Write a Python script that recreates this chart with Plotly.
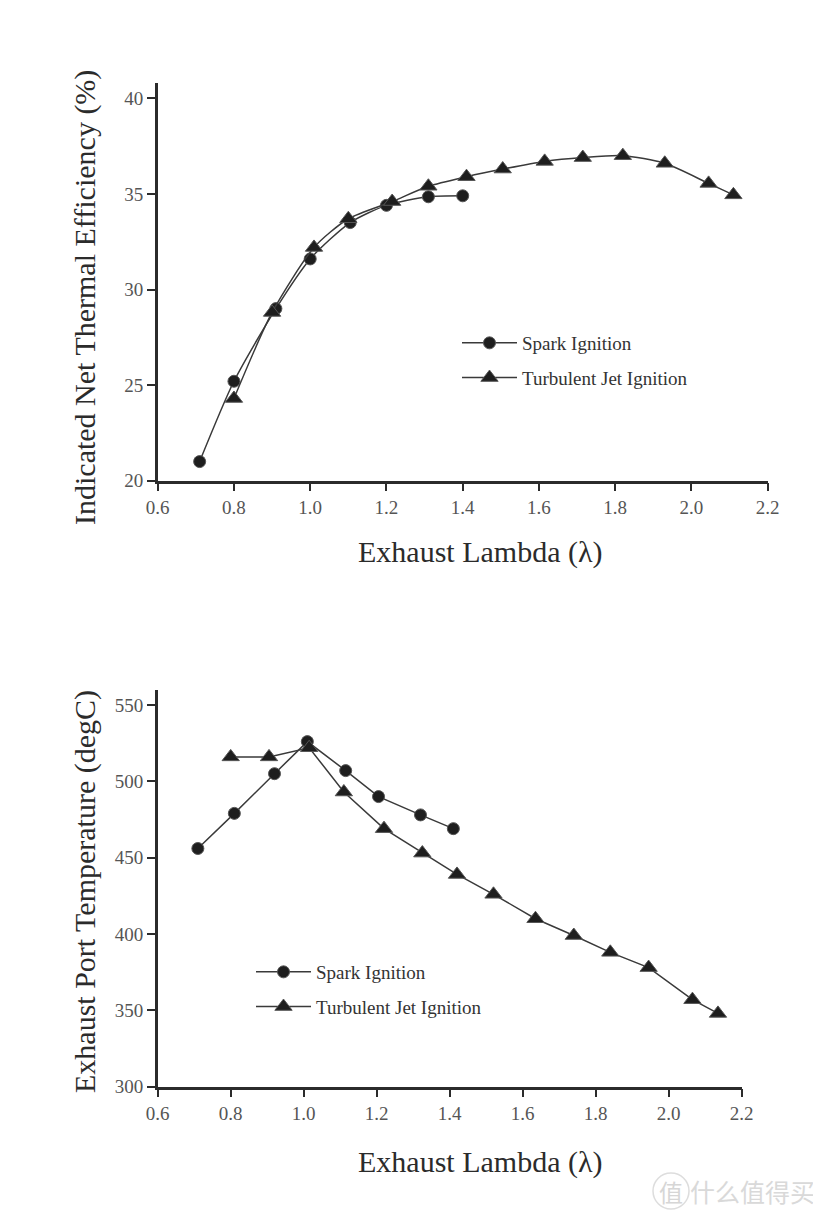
import plotly.graph_objects as go

# ---- data ----
si_eff_lambda = [0.71, 0.80, 0.91, 1.00, 1.105, 1.20, 1.31, 1.40]
si_eff = [21.0, 25.2, 29.0, 31.6, 33.5, 34.4, 34.85, 34.9]
tji_eff_lambda = [0.80, 0.90, 1.01, 1.10, 1.215, 1.31, 1.41, 1.505, 1.615, 1.715, 1.82, 1.93, 2.045, 2.11]
tji_eff = [24.3, 28.8, 32.2, 33.7, 34.6, 35.4, 35.9, 36.3, 36.7, 36.9, 37.0, 36.6, 35.55, 34.95]

si_temp_lambda = [0.71, 0.81, 0.92, 1.01, 1.115, 1.205, 1.32, 1.41]
si_temp = [456, 479, 505, 526, 507, 490, 478, 469]
tji_temp_lambda = [0.80, 0.905, 1.015, 1.11, 1.22, 1.325, 1.42, 1.52, 1.635, 1.74, 1.84, 1.945, 2.065, 2.135]
tji_temp = [516, 516, 522, 493, 469, 453, 439, 426, 410, 399, 388, 378, 357, 348]

x_ticks = [0.6, 0.8, 1.0, 1.2, 1.4, 1.6, 1.8, 2.0, 2.2]
x_tick_text = ["0.6", "0.8", "1.0", "1.2", "1.4", "1.6", "1.8", "2.0", "2.2"]
eff_ticks = [20, 25, 30, 35, 40]
temp_ticks = [300, 350, 400, 450, 500, 550]

series_names = ["Spark Ignition", "Turbulent Jet Ignition"]
x_title = "Exhaust Lambda (λ)"
eff_title = "Indicated Net Thermal Efficiency (%)"
temp_title = "Exhaust Port Temperature (degC)"

# ---- styling ----
W, H = 821, 1216
PAGE_OFFSET = 8  # default body margin of the html page
FONT = "Liberation Serif, Times New Roman, serif"
INK = "#2b2b2b"
LINE = "#3a3a3a"
TICK_COLOR = "#555555"

fig = go.Figure()

def add_series(x, y, name, symbol, xa, ya, legend, group, shape, size):
    fig.add_trace(go.Scatter(
        x=x, y=y, name=name, mode="lines+markers",
        xaxis=xa, yaxis=ya, legend=legend, legendgroup=group,
        line=dict(color=LINE, width=1.5, shape=shape, smoothing=0.7),
        marker=dict(symbol=symbol, size=size, color="#1e1e1e",
                    line=dict(color="#555555", width=1)),
    ))

add_series(si_eff_lambda, si_eff, series_names[0], "circle", "x", "y", "legend", "a", "spline", 12)
add_series(tji_eff_lambda, tji_eff, series_names[1], "triangle-up", "x", "y", "legend", "b", "spline", 15)
add_series(si_temp_lambda, si_temp, series_names[0], "circle", "x2", "y2", "legend2", "c", "linear", 12)
add_series(tji_temp_lambda, tji_temp, series_names[1], "triangle-up", "x2", "y2", "legend2", "d", "linear", 15)

def px_x(p):
    return (p - PAGE_OFFSET) / W

def px_y(p):
    return 1 - (p - PAGE_OFFSET) / H

axis_common = dict(
    showline=True, linecolor=INK, linewidth=2.5, mirror=False,
    ticks="outside", ticklen=8, tickwidth=2, tickcolor=INK,
    showgrid=False, zeroline=False, automargin=False,
    tickfont=dict(family=FONT, size=19, color=TICK_COLOR),
)

legend_common = dict(
    font=dict(family=FONT, size=19, color="#333333"),
    bgcolor="rgba(0,0,0,0)", borderwidth=0,
    tracegroupgap=7, itemwidth=55,
    xanchor="left", yanchor="top",
)

fig.update_layout(
    template="none",
    width=W, height=H,
    margin=dict(l=0, r=0, t=0, b=0, autoexpand=False),
    paper_bgcolor="white", plot_bgcolor="white",
    font=dict(family=FONT, color=INK),
    xaxis=dict(axis_common, domain=[px_x(157.7), px_x(767.7)], range=[0.6, 2.2],
               tickvals=x_ticks, ticktext=x_tick_text, anchor="y"),
    yaxis=dict(axis_common, domain=[px_y(480.7), px_y(83)], range=[20, 40.8],
               tickvals=eff_ticks, anchor="x"),
    xaxis2=dict(axis_common, domain=[px_x(157.7), px_x(741.7)], range=[0.6, 2.2],
                tickvals=x_ticks, ticktext=x_tick_text, anchor="y2"),
    yaxis2=dict(axis_common, domain=[px_y(1086.7), px_y(690)], range=[300, 559.8],
                tickvals=temp_ticks, anchor="x2"),
    legend=dict(legend_common, x=px_x(457), y=px_y(324)),
    legend2=dict(legend_common, x=px_x(251), y=px_y(953)),
    showlegend=True,
)

annotations = [
    dict(text=x_title, x=px_x(480), y=px_y(552), xref="paper", yref="paper",
         showarrow=False, font=dict(family=FONT, size=30, color=INK),
         xanchor="center", yanchor="middle"),
    dict(text=x_title, x=px_x(480), y=px_y(1162), xref="paper", yref="paper",
         showarrow=False, font=dict(family=FONT, size=30, color=INK),
         xanchor="center", yanchor="middle"),
    dict(text=eff_title, x=px_x(85), y=px_y(298), xref="paper", yref="paper",
         showarrow=False, textangle=-90, font=dict(family=FONT, size=30, color=INK),
         xanchor="center", yanchor="middle"),
    dict(text=temp_title, x=px_x(85), y=px_y(892), xref="paper", yref="paper",
         showarrow=False, textangle=-90, font=dict(family=FONT, size=30, color=INK),
         xanchor="center", yanchor="middle"),
    dict(text="值", x=px_x(671), y=px_y(1191), xref="paper", yref="paper",
         showarrow=False, font=dict(family="Noto Sans CJK SC", size=24, color="#d6d6d6"),
         xanchor="center", yanchor="middle"),
    dict(text="什么值得买", x=px_x(752), y=px_y(1191), xref="paper", yref="paper",
         showarrow=False, font=dict(family="Noto Sans CJK SC", size=25, color="#d9d9d9"),
         xanchor="center", yanchor="middle"),
]
fig.update_layout(annotations=annotations)

# watermark ring around the first glyph
fig.add_shape(type="circle", xref="paper", yref="paper",
              x0=px_x(653), x1=px_x(689), y0=px_y(1209), y1=px_y(1173),
              line=dict(color="#dddddd", width=1.5))

fig.write_html("out.html")
